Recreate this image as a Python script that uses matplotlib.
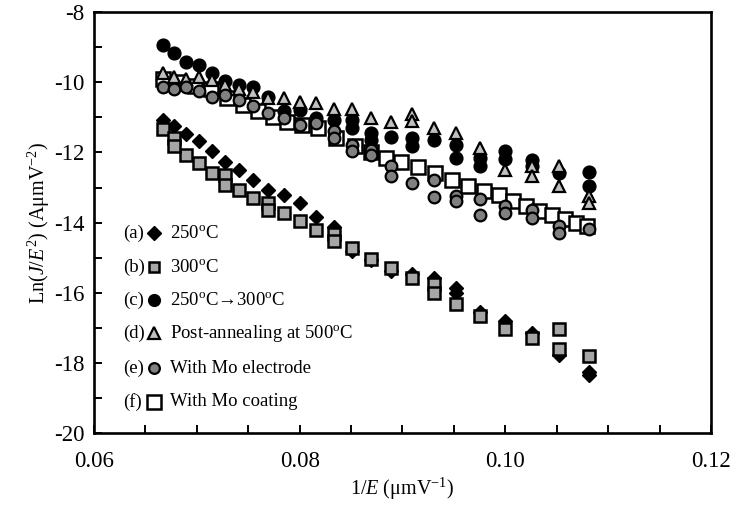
import matplotlib
matplotlib.use("Agg")
import matplotlib.pyplot as plt

plt.rcParams['font.family'] = ['Liberation Serif', 'DejaVu Sans']
plt.rcParams['mathtext.fontset'] = 'custom'
plt.rcParams['mathtext.rm'] = 'Liberation Serif'
plt.rcParams['mathtext.it'] = 'Liberation Serif:italic'
plt.rcParams['axes.unicode_minus'] = False

# 1/E columns (field steps of 0.25 V/um, 15 -> 9.25)
inv_e = [0.06667, 0.06780, 0.06897, 0.07018, 0.07143, 0.07273, 0.07407, 0.07547,
         0.07692, 0.07843, 0.08000, 0.08163, 0.08333, 0.08511, 0.08696, 0.08889,
         0.09091, 0.09302, 0.09524, 0.09756, 0.10000, 0.10256, 0.10526, 0.10811]

# (a) 250C
y_a = [-11.07, -11.26, -11.48, -11.67, -11.97, -12.26, -12.49, -12.78, -13.06, -13.20,
       -13.44, -13.85, -14.12, -14.80, -15.08, -15.38, -15.48, -15.58, -15.86, -16.55,
       -16.82, -17.15, -17.78, -18.25]
rep_a_x = [0.09524, 0.10811]
rep_a_y = [-16.00, -18.35]

# (b) 300C
y_b = [-11.33, -11.59, -12.07, -12.30, -12.59, -12.63, -13.06, -13.30, -13.44, -13.72,
       -13.96, -14.20, -14.34, -14.72, -15.05, -15.29, -15.57, -15.76, -16.33, -16.66,
       -17.04, -17.28, -17.04, -17.80]
rep_b_x = [0.06780, 0.07273, 0.07692, 0.08333, 0.09302, 0.10526]
rep_b_y = [-11.83, -12.92, -13.63, -14.53, -16.00, -17.61]

# (c) 250C -> 300C
y_c = [-8.94, -9.16, -9.41, -9.51, -9.73, -9.95, -10.08, -10.14, -10.41, -10.82,
       -10.80, -11.02, -11.07, -11.07, -11.45, -11.55, -11.60, -11.64, -11.80, -12.15,
       -11.95, -12.22, -12.60, -12.57]
rep_c_x = [0.08511, 0.08696, 0.09091, 0.09524, 0.09756, 0.10000, 0.10256, 0.10811]
rep_c_y = [-11.31, -11.64, -11.81, -12.16, -12.38, -12.20, -12.40, -12.95]

# (d) post-annealing at 500C
y_d = [-9.74, -9.84, -9.91, -9.84, -9.93, -10.08, -10.20, -10.27, -10.45, -10.45,
       -10.55, -10.60, -10.77, -10.77, -11.02, -11.12, -10.90, -11.31, -11.45, -11.88,
       -12.49, -12.40, -12.38, -13.25]
rep_d_x = [0.09091, 0.10256, 0.10526, 0.10811]
rep_d_y = [-11.09, -12.68, -12.95, -13.44]

# (e) with Mo electrode
y_e = [-10.12, -10.20, -10.14, -10.24, -10.41, -10.36, -10.50, -10.67, -10.88, -11.02,
       -11.21, -11.17, -11.40, -11.78, -11.92, -12.40, -12.87, -12.78, -13.25, -13.33,
       -13.53, -13.63, -14.10, -14.18]
rep_e_x = [0.08333, 0.08511, 0.08696, 0.08889, 0.09302, 0.09524, 0.09756, 0.10000,
           0.10256, 0.10526]
rep_e_y = [-11.59, -11.97, -12.07, -12.66, -13.28, -13.39, -13.77, -13.72, -13.87, -14.29]

# (f) with Mo coating (finer steps)
x_f = [0.06670, 0.06825, 0.06981, 0.07136, 0.07291, 0.07447, 0.07592, 0.07738, 0.07874,
       0.08019, 0.08175, 0.08350, 0.08534, 0.08689, 0.08835, 0.08990, 0.09155, 0.09320,
       0.09485, 0.09641, 0.09796, 0.09942, 0.10078, 0.10204, 0.10330, 0.10456, 0.10583,
       0.10689, 0.10796]
y_f = [-9.90, -10.00, -10.10, -10.20, -10.45, -10.64, -10.83, -10.98, -11.12, -11.21,
       -11.30, -11.60, -11.83, -12.00, -12.15, -12.28, -12.42, -12.60, -12.80, -12.97,
       -13.10, -13.20, -13.39, -13.53, -13.68, -13.77, -13.91, -14.00, -14.10]

labels = ['250$^{\\mathrm{o}}$C',
          '300$^{\\mathrm{o}}$C',
          '250$^{\\mathrm{o}}$C\u2192300$^{\\mathrm{o}}$C',
          'Post-annealing at 500$^{\\mathrm{o}}$C',
          'With Mo electrode',
          'With Mo coating']
tags = ['(a)', '(b)', '(c)', '(d)', '(e)', '(f)']

styles = [
    dict(marker='D', ms=7.6, mfc='black', mec='black', mew=1.0),
    dict(marker='s', ms=8.0, mfc='#a6a6a6', mec='black', mew=1.8),
    dict(marker='o', ms=9.2, mfc='black', mec='black', mew=1.0),
    dict(marker='^', ms=9.0, mfc='#c0c0c0', mec='black', mew=1.6),
    dict(marker='o', ms=8.4, mfc='#808080', mec='black', mew=1.6),
    dict(marker='s', ms=10.4, mfc='white', mec='black', mew=1.8),
]

series_x = [inv_e + rep_a_x, inv_e + rep_b_x, inv_e + rep_c_x,
            inv_e + rep_d_x, inv_e + rep_e_x, x_f]
series_y = [y_a + rep_a_y, y_b + rep_b_y, y_c + rep_c_y,
            y_d + rep_d_y, y_e + rep_e_y, y_f]
zorders = [3, 4, 5, 6, 7, 2]

fig = plt.figure(figsize=(7.32, 5.07), dpi=100)
ax = fig.add_axes([0.1284, 0.146, 0.8429, 0.830])

for xs, ys, st, z in zip(series_x, series_y, styles, zorders):
    ax.plot(xs, ys, linestyle='none', zorder=z, **st)

ax.set_xlim(0.06, 0.12)
ax.set_ylim(-20, -8)
ax.set_xticks([0.06, 0.08, 0.10, 0.12])
ax.set_xticklabels(['0.06', '0.08', '0.10', '0.12'])
ax.set_xticks([0.065, 0.07, 0.075, 0.085, 0.09, 0.095, 0.105, 0.11, 0.115], minor=True)
ax.set_yticks([-20, -18, -16, -14, -12, -10, -8])
ax.set_yticks([-19, -17, -15, -13, -11, -9], minor=True)
ax.tick_params(which='both', direction='in', length=5.5, width=1.4,
               top=False, right=False, labelsize=16.5)
ax.tick_params(axis='x', pad=13)
ax.tick_params(axis='y', pad=7)
for sp in ax.spines.values():
    sp.set_linewidth(1.9)

ax.set_xlabel('1/$E$ (\u03bcmV$^{-1}$)', fontsize=14.5, labelpad=3)
ax.set_ylabel('Ln($J$/$E^{2}$) (A\u03bcmV$^{-2}$)', fontsize=14.5, labelpad=1)

# legend rows drawn in axes fraction
row_y = [0.475, 0.394, 0.316, 0.2375, 0.154, 0.074]
for tag, lab, st, yy in zip(tags, labels, styles, row_y):
    ax.text(0.047, yy, tag, transform=ax.transAxes, fontsize=13.5, va='center')
    ax.plot([0.097], [yy], transform=ax.transAxes, linestyle='none',
            clip_on=False, zorder=8, **dict(st, ms=st['ms'] * 0.92))
    ax.text(0.123, yy, lab, transform=ax.transAxes, fontsize=13.5, va='center')

fig.savefig('out.png', dpi=100)
